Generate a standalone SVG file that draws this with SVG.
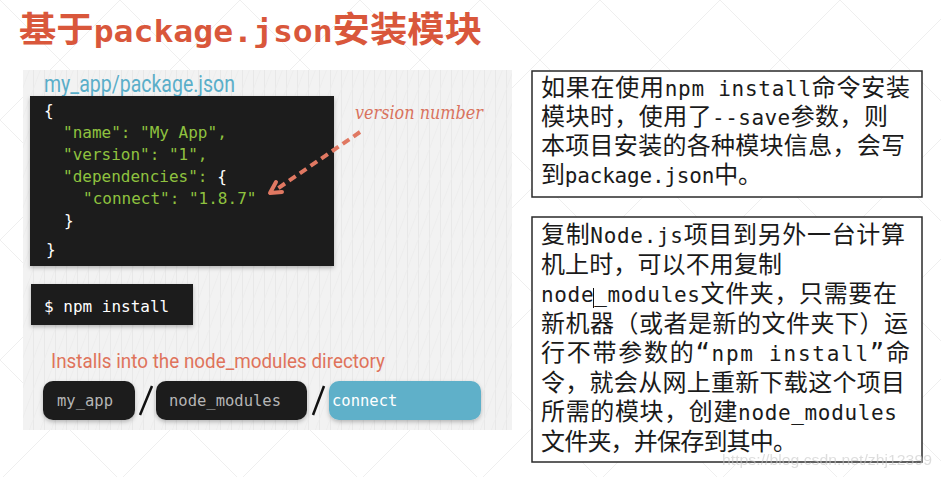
<svg xmlns="http://www.w3.org/2000/svg" width="941" height="477" viewBox="0 0 941 477">
<defs>
<style>
.cjk{font-family:"Noto Sans CJK SC","Noto Sans",sans-serif}
.mono{font-family:"DejaVu Sans Mono","Liberation Mono",monospace}
.code{font-family:"DejaVu Sans Mono","Liberation Mono",monospace;font-size:16px;fill:#8fc23f}
.body{font-family:"DejaVu Sans Mono","Noto Sans CJK SC",monospace;font-size:24px;fill:#1a1a1a}
.lat{font-size:21px}
.pilltxt{font-family:"DejaVu Sans Mono","Liberation Mono",monospace;font-size:15.5px}
.box{fill:#ffffff;stroke:#2a2a2a;stroke-width:1.5}
.dark{fill:#1c1c1c}
</style>
<pattern id="bg" width="120" height="120" patternUnits="userSpaceOnUse">
<path d="M0 0L120 120M120 0L0 120" stroke="#efefef" stroke-width="1" fill="none"/>
</pattern>
<pattern id="grid" width="11" height="30" patternUnits="userSpaceOnUse">
<path d="M0.5 0V30" stroke="#e8e8e8" stroke-width="1"/>
<path d="M0 30L11 0" stroke="#ececec" stroke-width="0.8"/>
</pattern>
<filter id="sh" x="-10%" y="-10%" width="120%" height="130%">
<feDropShadow dx="0" dy="2" stdDeviation="2" flood-color="#000" flood-opacity="0.25"/>
</filter>
</defs>
<rect width="941" height="477" fill="#ffffff"/>
<rect width="941" height="477" fill="url(#bg)"/>

<g id="title">
<text x="19" y="42" fill="#d9573b" font-weight="bold" textLength="463" lengthAdjust="spacingAndGlyphs"><tspan class="cjk" font-size="35">基于</tspan><tspan class="mono" font-size="31">package.json</tspan><tspan class="cjk" font-size="35">安装模块</tspan></text>
</g>

<g id="panel">
<rect x="23" y="70" width="489" height="360" fill="#f2f2f2"/>
<rect x="23" y="70" width="489" height="360" fill="url(#grid)"/>
</g>

<g id="package-label">
<text x="44" y="92" font-family="Roboto,'Liberation Sans',sans-serif" font-size="23" fill="#5aaec9" textLength="191" lengthAdjust="spacingAndGlyphs">my_app/package.json</text>
</g>

<g id="code-block">
<rect x="30" y="96" width="304" height="170" class="dark" filter="url(#sh)"/>
<text class="code" x="44" y="116" style="fill:#ffffff">{</text>
<text class="code" x="63" y="138">"name": "My App",</text>
<text class="code" x="63" y="160">"version": "1",</text>
<text class="code" x="63" y="182">"dependencies": <tspan style="fill:#ffffff">{</tspan></text>
<text class="code" x="83" y="204">"connect": "1.8.7"</text>
<text class="code" x="64" y="226" style="fill:#ffffff">}</text>
<text class="code" x="46" y="255" style="fill:#ffffff">}</text>
</g>

<g id="version-note">
<text x="355" y="119" font-family="'DejaVu Serif','Liberation Serif',serif" font-style="italic" font-size="18" fill="#d9735e" textLength="128" lengthAdjust="spacingAndGlyphs">version number</text>
</g>

<g id="connectors">
<path d="M360 132L277 189" stroke="#e07862" stroke-width="4" stroke-dasharray="8 5" fill="none"/>
<path d="M276 182L270 193L282 192" stroke="#e07862" stroke-width="4" stroke-linecap="round" stroke-linejoin="round" fill="none"/>
</g>

<g id="npm-install">
<rect x="31" y="284" width="162" height="41" class="dark" filter="url(#sh)"/>
<text class="code" x="44" y="312" style="fill:#ffffff">$ npm install</text>
</g>

<g id="installs-label">
<text x="51" y="368" font-family="Roboto,'Liberation Sans',sans-serif" font-size="21" fill="#df735b" textLength="334" lengthAdjust="spacingAndGlyphs">Installs into the node_modules directory</text>
</g>

<g id="path-my_app">
<rect x="43" y="381" width="92" height="39" rx="10" class="dark" filter="url(#sh)"/>
<text class="pilltxt" x="57" y="406" fill="#b5b5b5">my_app</text>
</g>
<g id="slash1"><path d="M140 415L152 386" stroke="#111" stroke-width="2.5"/></g>
<g id="path-node_modules">
<rect x="156" y="381" width="151" height="39" rx="10" class="dark" filter="url(#sh)"/>
<text class="pilltxt" x="169" y="406" fill="#b5b5b5">node_modules</text>
</g>
<g id="slash2"><path d="M313 415L324 386" stroke="#111" stroke-width="2.5"/></g>
<g id="path-connect">
<rect x="329" y="381" width="152" height="39" rx="10" fill="#5fb0c9" filter="url(#sh)"/>
<text class="pilltxt" x="332" y="406" fill="#ffffff">connect</text>
</g>

<g id="note1">
<rect x="532" y="71" width="390" height="126" class="box"/>
<text class="body" x="541" y="96" textLength="369" lengthAdjust="spacing">如果在使用<tspan class="lat">npm install</tspan>命令安装</text>
<text class="body" x="541" y="125" textLength="347" lengthAdjust="spacing">模块时，使用了<tspan class="lat">--save</tspan>参数，则</text>
<text class="body" x="541" y="154" textLength="364" lengthAdjust="spacing">本项目安装的各种模块信息，会写</text>
<text class="body" x="541" y="183" textLength="221" lengthAdjust="spacing">到<tspan class="lat">package.json</tspan>中。</text>
</g>

<g id="note2">
<rect x="532" y="217" width="390" height="245" class="box"/>
<text class="body" x="541" y="243" textLength="364" lengthAdjust="spacing">复制<tspan class="lat">Node.js</tspan>项目到另外一台计算</text>
<text class="body" x="541" y="272.5" textLength="241" lengthAdjust="spacing">机上时，可以不用复制</text>
<text class="body" x="541" y="302" textLength="356" lengthAdjust="spacing"><tspan class="lat">node_modules</tspan>文件夹，只需要在</text>
<text class="body" x="541" y="331.5" textLength="367" lengthAdjust="spacing">新机器（或者是新的文件夹下）运</text>
<text class="body" x="541" y="361" textLength="369" lengthAdjust="spacing">行不带参数的“<tspan class="lat">npm install</tspan>”命</text>
<text class="body" x="541" y="390.5" textLength="364" lengthAdjust="spacing">令，就会从网上重新下载这个项目</text>
<text class="body" x="541" y="420" textLength="356" lengthAdjust="spacing">所需的模块，创建<tspan class="lat">node_modules</tspan></text>
<text class="body" x="541" y="449.5" textLength="256" lengthAdjust="spacing">文件夹，并保存到其中。</text>
<path d="M593.5 288V308" stroke="#111" stroke-width="1"/>
</g>

<g id="watermark">
<text x="722" y="465" font-family="'Liberation Sans',Arial,sans-serif" font-size="15" fill="#c8c8c8" opacity="0.6" textLength="210" lengthAdjust="spacingAndGlyphs">https://blog.csdn.net/zhj12399</text>
</g>
</svg>
